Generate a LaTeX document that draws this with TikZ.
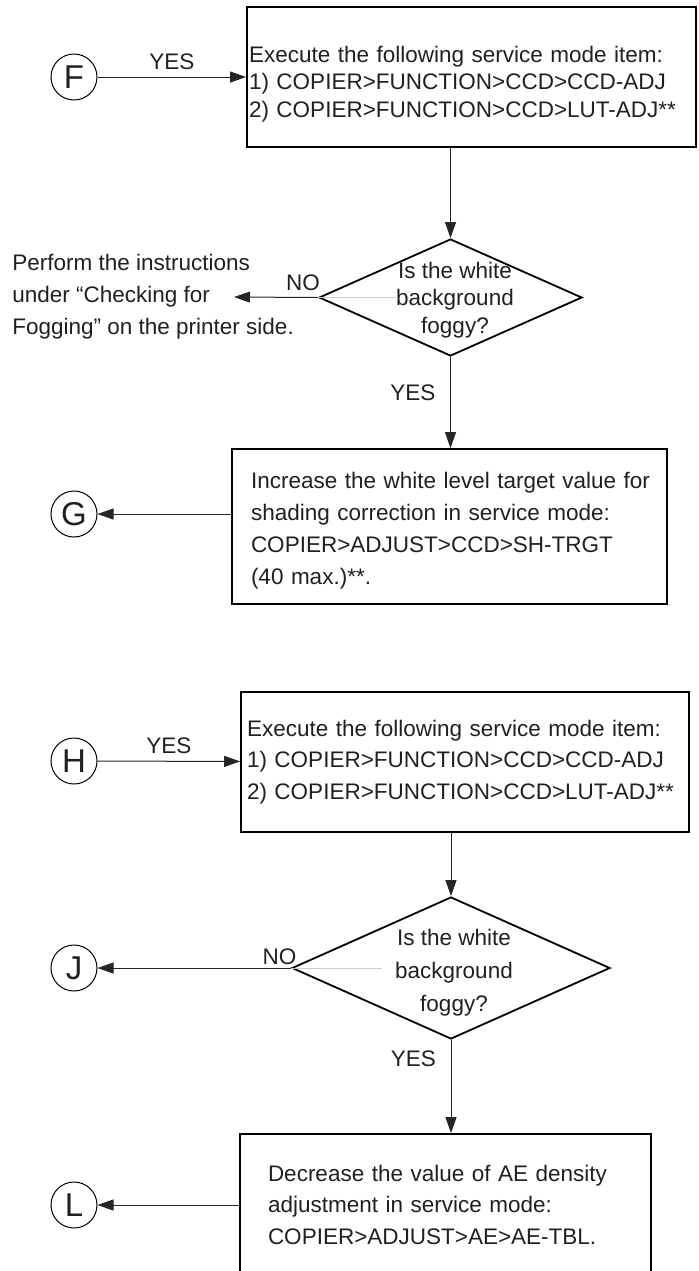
\documentclass[tikz,border=0pt]{standalone}
\usepackage{fontspec}
\setmainfont{Liberation Sans}
\usepackage{xcolor}
\usepackage{tikz}
\usetikzlibrary{shapes,arrows.meta,positioning}
\definecolor{ink}{HTML}{231F20}

\begin{document}
\begin{tikzpicture}[x=0.5pt, y=-0.5pt, font=\fontsize{11.25}{13.75}\selectfont, text=ink]
    \tikzstyle{process} = [rectangle, draw=black, line width=0.9pt, inner ysep=0pt, align=left]
    \tikzstyle{decision} = [diamond, draw=black, line width=0.9pt, inner sep=0pt]
    \tikzstyle{question} = [align=center, inner sep=0pt]
    \tikzstyle{connector} = [circle, draw=black, line width=0.5pt, inner sep=0pt,
        minimum size=23pt, font=\fontsize{16.5}{18}\selectfont]
    \tikzstyle{flow} = [-{Triangle[length=8pt, width=5.5pt]}, draw=black!85, line width=0.5pt]
    \useasboundingbox (0,0) rectangle (698,1271);

    \node (F) [connector] at (74,77) {F};
    \node (exec1) [process, minimum width=224.5pt, minimum height=70pt, text width=222.5pt,
        inner xsep=1pt, text height=15pt] at (471.5,77)
        {Execute the following service mode item:\\1) COPIER>FUNCTION>CCD>CCD-ADJ\\2) COPIER>FUNCTION>CCD>LUT-ADJ**};
    \node (q1) [decision, minimum width=131.5pt, minimum height=58.5pt] at (450.5,297.5) {};
    \node (q1text) [question] at (455,300) {Is the white\\background\\foggy?};
    \node (perform) [anchor=west, align=left, inner sep=0pt, font=\fontsize{11.25}{16}\selectfont] at (12,297)
        {Perform the instructions\\under “Checking for\\Fogging” on the printer side.};
    \coordinate (noend) at (234,297);
    \node (raise) [process, minimum width=217.5pt, minimum height=77.5pt, text width=204.5pt,
        inner xsep=6.5pt, text height=12.5pt, font=\fontsize{11.25}{16}\selectfont] at (449.5,526.5)
        {\hspace*{3pt}Increase the white level target value for\\\hspace*{3pt}shading correction in service mode:\\\hspace*{3pt}COPIER>ADJUST>CCD>SH-TRGT\\\hspace*{3pt}(40 max.)**.};
    \node (G) [connector] at (74,514) {G};

    \draw [flow] (F) -- node[above] {YES} (exec1);
    \draw [flow] (exec1.south -| q1) -- (q1);
    \draw [black!20, line width=0.4pt] (q1.west) -- (q1text.west |- q1.west);
    \draw [flow] (q1.west) -- node[pos=0.18, above] {NO} (noend);
    \draw [flow] (q1.south) -- node[pos=0.39, left=4pt] {YES} (raise.north -| q1);
    \draw [flow] (raise.west |- G) -- (G);

    \node (H) [connector] at (74,761) {H};
    \node (exec2) [process, minimum width=224pt, minimum height=70pt, text width=218pt,
        inner xsep=3pt, font=\fontsize{11.25}{15.75}\selectfont] at (465,762)
        {Execute the following service mode item:\\1) COPIER>FUNCTION>CCD>CCD-ADJ\\2) COPIER>FUNCTION>CCD>LUT-ADJ**};
    \node (q2) [decision, minimum width=159pt, minimum height=71pt] at (451,968) {};
    \node (q2text) [question, font=\fontsize{11.25}{16.5}\selectfont] at (454,973) {Is the white\\background\\foggy?};
    \node (J) [connector] at (74,968) {J};
    \node (lower) [process, minimum width=205.5pt, minimum height=70.5pt, text width=177.5pt,
        inner xsep=14pt, font=\fontsize{11.25}{15.75}\selectfont] at (445.5,1204.5)
        {Decrease the value of AE density\\adjustment in service mode:\\COPIER>ADJUST>AE>AE-TBL.};
    \node (L) [connector] at (74,1205) {L};

    \draw [flow] (H) -- node[above] {YES} (exec2);
    \draw [flow] (exec2.south -| q2) -- (q2);
    \draw [black!20, line width=0.4pt] (q2.west) -- ++(91,0);
    \draw [flow] (q2.west) -- node[pos=0.06, above, inner sep=1.5pt] {NO} (J);
    \draw [flow] (q2.south) -- node[pos=0.2, left=4pt] {YES} (lower.north -| q2);
    \draw [flow] (lower.west |- L) -- (L);
\end{tikzpicture}
\end{document}
